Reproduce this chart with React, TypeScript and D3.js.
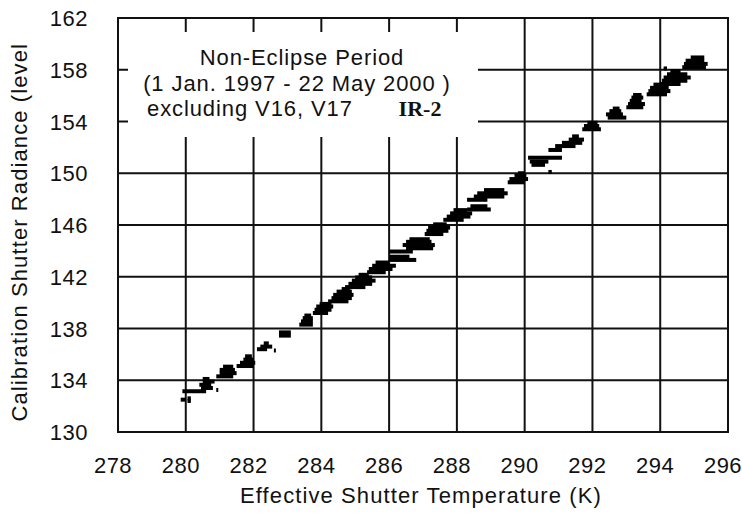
import React from 'react';
import * as d3 from 'd3';

// tick values
const tempTicks = [278, 280, 282, 284, 286, 288, 290, 292, 294, 296];
const levelTicks = [130, 134, 138, 142, 146, 150, 154, 158, 162];

// each streak: [start temperature, end temperature, radiance level]
const streaks: [number, number, number][] = [
  [279.85, 280.0, 132.5], [280.05, 280.15, 132.6], [280.05, 280.15, 132.4],
  [279.9, 280.6, 133.15],
  [280.45, 280.8, 133.4], [280.4, 280.75, 133.65], [280.5, 280.85, 133.9], [280.5, 280.7, 134.1], [280.9, 280.95, 133.25],
  [280.9, 281.4, 134.3], [281.0, 281.5, 134.55], [281.0, 281.45, 134.8], [281.1, 281.4, 135.05],
  [281.5, 282.0, 135.1], [281.6, 282.05, 135.35], [281.7, 282.0, 135.6], [281.75, 281.95, 135.85],
  [282.1, 282.4, 136.4], [282.2, 282.55, 136.6], [282.3, 282.45, 136.85], [282.6, 282.65, 136.3],
  [282.75, 283.1, 137.45], [282.75, 283.1, 137.7],
  [283.35, 283.75, 138.3], [283.4, 283.75, 138.55], [283.45, 283.75, 138.8], [283.5, 283.7, 139.0],
  [283.75, 284.2, 139.2], [283.8, 284.3, 139.45], [283.85, 284.35, 139.7], [283.95, 284.3, 139.9],
  [284.2, 284.8, 140.1], [284.3, 284.9, 140.35], [284.35, 284.95, 140.6], [284.45, 284.9, 140.85], [284.6, 284.85, 141.05],
  [284.7, 285.3, 141.2], [284.8, 285.5, 141.45], [284.9, 285.6, 141.7], [285.0, 285.5, 141.95], [285.1, 285.4, 142.15],
  [285.35, 285.9, 142.35], [285.4, 286.1, 142.6], [285.5, 286.2, 142.85], [285.6, 286.0, 143.1],
  [286.0, 286.8, 143.3], [286.0, 286.6, 143.55], [286.0, 286.7, 143.95],
  [286.5, 287.3, 144.2], [286.4, 287.35, 144.45], [286.5, 287.25, 144.7], [286.6, 287.2, 144.9],
  [287.05, 287.6, 145.3], [287.1, 287.75, 145.55], [287.15, 287.8, 145.8], [287.3, 287.7, 146.05],
  [287.6, 288.2, 146.4], [287.7, 288.4, 146.65], [287.8, 288.45, 146.9], [287.9, 288.3, 147.15],
  [288.3, 289.0, 147.2], [288.4, 288.9, 147.45],
  [288.3, 288.9, 147.95], [288.5, 289.4, 148.2], [288.6, 289.5, 148.45], [288.8, 289.4, 148.7],
  [289.5, 290.0, 149.3], [289.55, 290.1, 149.55], [289.7, 290.05, 149.8], [289.8, 290.0, 150.0],
  [290.1, 291.1, 151.2], [290.15, 290.7, 150.9], [290.2, 290.6, 150.65], [290.7, 290.8, 150.1],
  [290.7, 291.1, 151.8], [290.9, 291.5, 152.1], [291.1, 291.7, 152.35], [291.3, 291.75, 152.6], [291.4, 291.6, 152.85],
  [291.7, 292.25, 153.4], [291.75, 292.2, 153.65], [291.85, 292.15, 153.9],
  [292.45, 293.0, 154.3], [292.4, 292.9, 154.55], [292.5, 292.85, 154.8], [292.6, 292.8, 155.0],
  [293.0, 293.5, 155.1], [293.05, 293.55, 155.35], [293.1, 293.45, 155.6], [293.15, 293.5, 155.85], [293.2, 293.45, 156.05],
  [293.6, 294.2, 156.1], [293.65, 294.3, 156.35], [293.7, 294.25, 156.6], [293.8, 294.2, 156.85],
  [294.0, 294.6, 156.9], [294.05, 294.8, 157.15], [294.1, 294.9, 157.4], [294.2, 294.8, 157.65], [294.3, 294.6, 157.9], [294.1, 294.2, 158.1],
  [294.65, 295.35, 158.2], [294.7, 295.4, 158.45], [294.75, 295.3, 158.7], [294.9, 295.3, 158.95],
];

const width = 742;
const height = 515;
const font = '"Liberation Sans", Arial, sans-serif';

function App() {
  // plot box
  const left = 118, right = 728, top = 18, bottom = 432;

  const x = d3.scaleLinear().domain([278, 296]).range([left, right]);
  const y = d3.scaleLinear().domain([130, 162]).range([bottom, top]);

  // white label box covering the grid
  const box = { x: 128, y: 32, w: 350, h: 105 };

  return (
    <svg width={width} height={height} style={{ position: 'absolute', left: 0, top: 0, background: '#fff' }}
         fontFamily={font}>
      <rect x={0} y={0} width={width} height={height} fill="#fff" />

      {/* grid */}
      <g stroke="#111" strokeWidth={2}>
        {tempTicks.map(t => (
          <line key={'v' + t} x1={x(t)} x2={x(t)} y1={top} y2={bottom} />
        ))}
        {levelTicks.map(l => (
          <line key={'h' + l} x1={left} x2={right} y1={y(l)} y2={y(l)} />
        ))}
      </g>

      <rect x={box.x} y={box.y} width={box.w} height={box.h} fill="#fff" />

      {/* data streaks */}
      <g fill="#000">
        {streaks.map((s, i) => (
          <rect key={i} x={x(s[0])} y={y(s[2]) - 2} width={Math.max(2, x(s[1]) - x(s[0]))} height={4} />
        ))}
      </g>

      {/* frame */}
      <rect x={left} y={top} width={right - left} height={bottom - top} fill="none" stroke="#111" strokeWidth={2} />

      {/* tick labels */}
      <g fontSize={22} fill="#111" letterSpacing={0.5}>
        {tempTicks.map(t => (
          <text key={'xt' + t} x={x(t) - 5} y={473} textAnchor="middle">{t}</text>
        ))}
        {levelTicks.map(l => (
          <text key={'yt' + l} x={88} y={y(l) + 8} textAnchor="end">{l}</text>
        ))}
      </g>

      {/* axis titles */}
      <text x={421} y={503} fontSize={22} textAnchor="middle" fill="#111" letterSpacing={1.1}>
        Effective Shutter Temperature (K)
      </text>
      <text transform="translate(27, 43) rotate(-90)" fontSize={22} textAnchor="end" fill="#111" letterSpacing={1.1}>
        Calibration Shutter Radiance (level
      </text>

      {/* annotation */}
      <g fontSize={22} fill="#111" letterSpacing={0.9}>
        <text x={302} y={65} textAnchor="middle">Non-Eclipse Period</text>
        <text x={297} y={91} textAnchor="middle">(1 Jan. 1997 - 22 May 2000 )</text>
        <text x={147} y={116}>excluding V16, V17</text>
        <text x={420} y={116} textAnchor="middle" fontWeight="bold" letterSpacing={0}
              fontFamily='"Liberation Serif", "DejaVu Serif", serif'>IR-2</text>
      </g>
    </svg>
  );
}

export default App;
